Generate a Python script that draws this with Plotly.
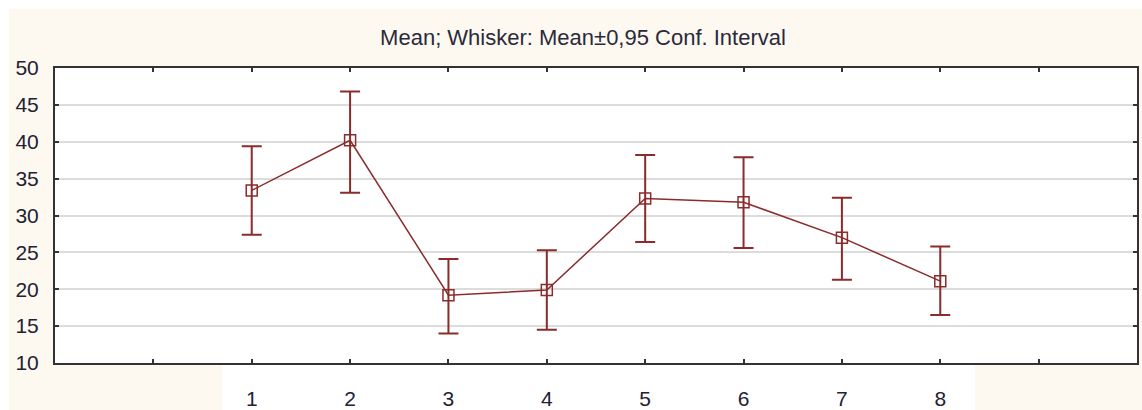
import plotly.graph_objects as go

categories = [1, 2, 3, 4, 5, 6, 7, 8]
means = [33.4, 40.2, 19.2, 19.9, 32.3, 31.8, 27.0, 21.1]
upper = [39.4, 46.8, 24.1, 25.3, 38.2, 37.9, 32.4, 25.8]
lower = [27.4, 33.1, 14.0, 14.5, 26.4, 25.6, 21.3, 16.5]
x_tick_vals = [0, 1, 2, 3, 4, 5, 6, 7, 8, 9]
x_tick_text = ["", "1", "2", "3", "4", "5", "6", "7", "8", ""]

RED = "#8b2b2b"
W, H = 1142, 410
L, R, T, B = 55, 1137, 68, 363
pw, ph = R - L, B - T

def px(x):
    return (x - L) / pw

def py(y):
    return (B - y) / ph

plus = [u - m for u, m in zip(upper, means)]
minus = [m - lo for m, lo in zip(means, lower)]

fig = go.Figure()
fig.add_trace(go.Scatter(
    x=categories, y=means, mode="lines+markers",
    line=dict(color=RED, width=1.5),
    marker=dict(symbol="square-open", size=11, color=RED, line=dict(width=1.5, color=RED)),
    error_y=dict(type="data", symmetric=False, array=plus, arrayminus=minus,
                 color=RED, thickness=2, width=10),
    showlegend=False,
))

shapes = [
    dict(type="rect", xref="paper", yref="paper", x0=px(0), x1=px(W), y0=py(9), y1=py(0),
         fillcolor="white", line=dict(width=0), layer="below"),
    dict(type="rect", xref="paper", yref="paper", x0=px(0), x1=px(9), y0=py(H), y1=py(0),
         fillcolor="white", line=dict(width=0), layer="below"),
    dict(type="rect", xref="paper", yref="paper", x0=px(222), x1=px(975), y0=py(H), y1=py(B),
         fillcolor="white", line=dict(width=0), layer="below"),
]

fig.update_layout(
    width=W, height=H,
    margin=dict(l=L, r=W - R, t=T, b=H - B, autoexpand=False),
    paper_bgcolor="#fdf9f1",
    plot_bgcolor="white",
    font=dict(family="Liberation Sans, Arial, sans-serif", color="#222233"),
    title=dict(text="Mean; Whisker: Mean±0,95 Conf. Interval", xref="container", yref="container",
               x=583 / W, y=1 - 37 / H, xanchor="center", yanchor="middle",
               font=dict(size=22, color="#2a2a3a")),
    shapes=shapes,
    xaxis=dict(range=[-1, 10], tickmode="array", tickvals=x_tick_vals, ticktext=x_tick_text,
               showgrid=False, zeroline=False, showline=True, linecolor="#333333", linewidth=2,
               mirror="ticks", ticks="inside", ticklen=4, tickwidth=2, tickcolor="#333333",
               tickfont=dict(size=21), ticklabelstandoff=16, automargin=False),
    yaxis=dict(range=[10, 50], tickmode="linear", tick0=10, dtick=5,
               showgrid=True, gridcolor="#dcdcdc", gridwidth=2, zeroline=False,
               showline=True, linecolor="#333333", linewidth=2,
               mirror="ticks", ticks="inside", ticklen=4, tickwidth=2, tickcolor="#333333",
               tickfont=dict(size=21), ticklabelstandoff=10, automargin=False),
)

fig.write_html("out.html", config={"displayModeBar": False},
               post_script="document.body.style.margin='0px';")
